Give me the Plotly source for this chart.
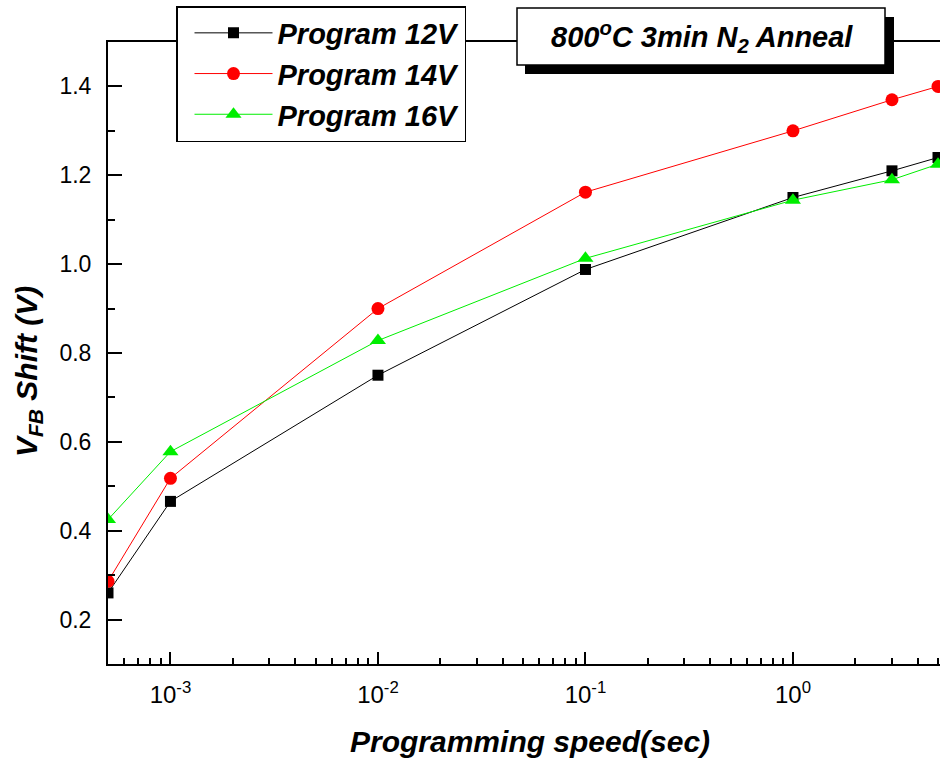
import math
import plotly.graph_objects as go

# ---- data ----
x_sec = [5e-4, 1e-3, 1e-2, 1e-1, 1, 3, 5]
v12 = [0.26, 0.466, 0.75, 0.988, 1.15, 1.21, 1.24]
v14 = [0.286, 0.518, 0.90, 1.162, 1.30, 1.37, 1.40]
v16 = [0.425, 0.578, 0.828, 1.013, 1.144, 1.19, 1.225]
names = ["Program 12V", "Program 14V", "Program 16V"]
x_tickvals = [1e-3, 1e-2, 1e-1, 1]
x_ticktext = ["10<sup>-3</sup>", "10<sup>-2</sup>", "10<sup>-1</sup>", "10<sup>0</sup>"]
title_text = "800<sup>o</sup>C 3min N<sub>2</sub> Anneal"
x_title = "Programming speed(sec)"
y_title = "V<sub>FB</sub> Shift (V)"

W, H = 940, 762
L, R, T, B = 108, 0, 42, 98
PW, PH = W - L - R, H - T - B


def px(xp):
    return (xp - L) / PW


def py(yp):
    return (H - B - yp) / PH


FONT = "Liberation Sans, Arial, sans-serif"

fig = go.Figure()
series = [
    (v12, names[0], "black", "square", 11),
    (v14, names[1], "#ff0000", "circle", 13),
    (v16, names[2], "#00ee00", "triangle-up", 14),
]
for ys, nm, col, sym, sz in series:
    fig.add_trace(go.Scatter(
        x=x_sec, y=ys, name=nm, mode="lines+markers",
        line=dict(color=col, width=1),
        marker=dict(symbol=sym, size=sz, color=col, line=dict(width=0)),
        cliponaxis=True,
    ))

fig.update_layout(
    width=W, height=H,
    margin=dict(l=L, r=R, t=T, b=B, autoexpand=False),
    paper_bgcolor="white", plot_bgcolor="white",
    font=dict(family=FONT, color="black", size=23),
    legend=dict(
        x=px(176), y=py(6), xanchor="left", yanchor="top",
        bgcolor="white", bordercolor="black", borderwidth=1.5,
        font=dict(family=FONT, size=29, weight="bold", style="italic"),
        itemwidth=78, indentation=12, tracegroupgap=0,
    ),
    showlegend=True,
)

fig.update_xaxes(
    type="log", range=[math.log10(5e-4), math.log10(5e-4) + PW / 207.5],
    tickmode="array", tickvals=x_tickvals, ticktext=x_ticktext,
    showline=True, linecolor="black", linewidth=2, mirror=True,
    ticks="inside", ticklen=12, tickwidth=1.5, tickcolor="black",
    minor=dict(ticks="inside", ticklen=6, tickwidth=1.5, tickcolor="black", dtick="D1", showgrid=False),
    showgrid=False, zeroline=False,
    tickfont=dict(family=FONT, size=24),
    ticklabelstandoff=8,
)
fig.update_yaxes(
    range=[0.1, 1.5], tick0=0.2, dtick=0.2, tickformat=".1f",
    showline=True, linecolor="black", linewidth=2,
    ticks="inside", ticklen=14, tickwidth=1.5, tickcolor="black",
    minor=dict(ticks="inside", ticklen=7, tickwidth=1.5, tickcolor="black", dtick=0.1, showgrid=False),
    showgrid=False, zeroline=False,
    tickfont=dict(family=FONT, size=23),
    ticklabelstandoff=10,
)

# axis titles
fig.add_annotation(xref="paper", yref="paper", x=px(530), y=py(741),
                   text=x_title, showarrow=False, xanchor="center", yanchor="middle",
                   font=dict(family=FONT, size=30, weight="bold", style="italic"))
fig.add_annotation(xref="paper", yref="paper", x=px(28), y=py(372),
                   text=y_title, showarrow=False, xanchor="center", yanchor="middle",
                   textangle=-90,
                   font=dict(family=FONT, size=30, weight="bold", style="italic"))

# annotation box with drop shadow
fig.add_shape(type="rect", xref="paper", yref="paper",
              x0=px(525), x1=px(894), y0=py(74), y1=py(17),
              fillcolor="black", line=dict(width=0), layer="above")
fig.add_shape(type="rect", xref="paper", yref="paper",
              x0=px(517), x1=px(885), y0=py(65), y1=py(8),
              fillcolor="white", line=dict(color="black", width=1.5), layer="above")
fig.add_annotation(xref="paper", yref="paper", x=px(702), y=py(37),
                   text=title_text, showarrow=False, xanchor="center", yanchor="middle",
                   font=dict(family=FONT, size=29, weight="bold", style="italic"))

fig.write_html("out.html")
